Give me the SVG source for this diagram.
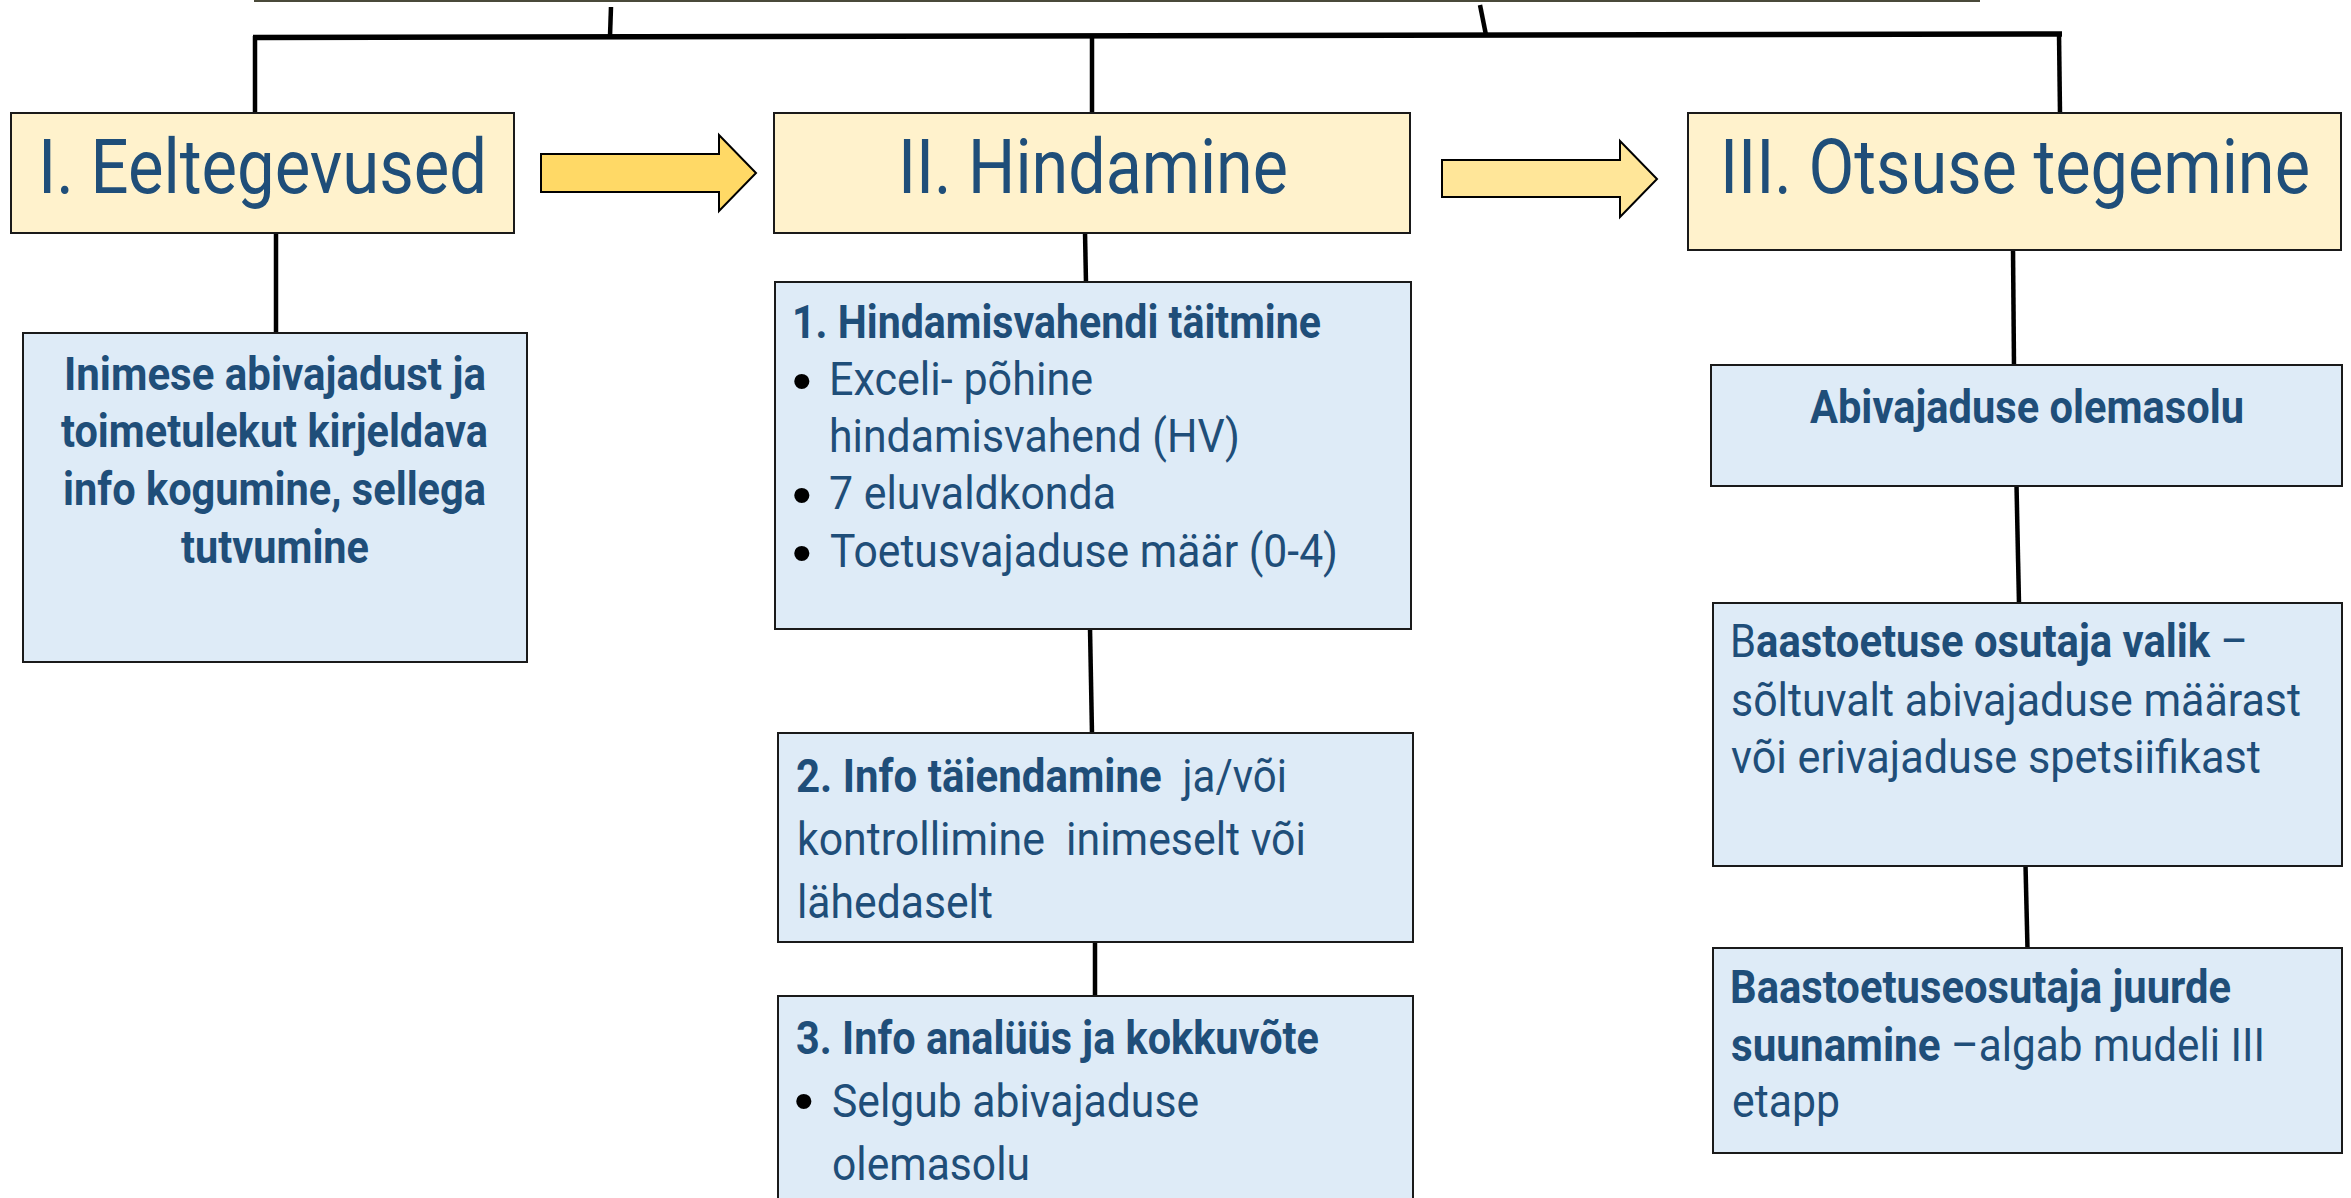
<svg xmlns="http://www.w3.org/2000/svg" width="2351" height="1198" viewBox="0 0 2351 1198">
<style>
.hdr{fill:#FFF2CC;stroke:#1a1a1a;stroke-width:2}
.box{fill:#DEEBF7;stroke:#1a1a1a;stroke-width:2}
.t{font-family:Roboto,"Liberation Sans",sans-serif;fill:#1F4E79;font-size:47px}
.h{font-size:76px}
.b{font-weight:700}
.bul{font-family:"Liberation Sans",sans-serif;fill:#000;font-size:56px}
.c line{stroke:#000;stroke-width:4.5}
.arrow{stroke:#000;stroke-width:2;stroke-linejoin:miter}
</style>
<rect width="2351" height="1198" fill="#fff"/>
<g id="top-box"><rect x="255" y="-30" width="1724" height="31" fill="#fff" stroke="#4a4a3a" stroke-width="2"/></g>
<g id="connectors" class="c">
<line x1="611" y1="7" x2="610" y2="36"/>
<line x1="1480" y1="5" x2="1486" y2="35"/>
<line x1="253" y1="37.5" x2="2062" y2="34" style="stroke-width:5.5"/>
<line x1="255" y1="36" x2="255" y2="114"/>
<line x1="1092" y1="36" x2="1092" y2="114"/>
<line x1="2059" y1="33" x2="2060" y2="114"/>
<line x1="276" y1="232" x2="276" y2="334"/>
<line x1="1085" y1="232" x2="1086" y2="283"/>
<line x1="1090" y1="628" x2="1092" y2="734"/>
<line x1="1095" y1="941" x2="1095" y2="997"/>
<line x1="2013" y1="249" x2="2014" y2="366"/>
<line x1="2016.5" y1="485" x2="2019" y2="604"/>
<line x1="2025.5" y1="865" x2="2027.5" y2="949"/>
</g>
<g id="arrow1"><polygon class="arrow" fill="#FFD966" points="541,154 719,154 719,135 756,173 719,211 719,192 541,192"/></g>
<g id="arrow2"><polygon class="arrow" fill="#FFE699" points="1442,160 1620,160 1620,141 1657,179 1620,217 1620,197 1442,197"/></g>
<g id="stage1">
<rect class="hdr" x="11" y="113" width="503" height="120"/>
<text class="t h" transform="matrix(0.82 0 0 1 6.84 0)" x="38" y="193" textLength="547.6" lengthAdjust="spacingAndGlyphs">I. Eeltegevused</text>
</g>
<g id="stage2">
<rect class="hdr" x="774" y="113" width="636" height="120"/>
<text class="t h" transform="matrix(0.82 0 0 1 161.64 0)" x="898" y="193" textLength="475.6" lengthAdjust="spacingAndGlyphs">II. Hindamine</text>
</g>
<g id="stage3">
<rect class="hdr" x="1688" y="113" width="653" height="137"/>
<text class="t h" transform="matrix(0.82 0 0 1 309.6 0)" x="1720" y="193" textLength="719.5" lengthAdjust="spacingAndGlyphs">III. Otsuse tegemine</text>
</g>
<g id="info-collect">
<rect class="box" x="23" y="333" width="504" height="329"/>
<text class="t b" transform="matrix(0.82 0 0 1 11.52 0)" x="64" y="390" textLength="514.6" lengthAdjust="spacingAndGlyphs">Inimese abivajadust ja</text>
<text class="t b" transform="matrix(0.82 0 0 1 10.98 0)" x="61" y="447" textLength="520.7" lengthAdjust="spacingAndGlyphs">toimetulekut kirjeldava</text>
<text class="t b" transform="matrix(0.82 0 0 1 11.34 0)" x="63" y="505" textLength="515.9" lengthAdjust="spacingAndGlyphs">info kogumine, sellega</text>
<text class="t b" transform="matrix(0.82 0 0 1 32.58 0)" x="181" y="563" textLength="229.3" lengthAdjust="spacingAndGlyphs">tutvumine</text>
</g>
<g id="assess-1">
<rect class="box" x="775" y="282" width="636" height="347"/>
<text class="t b" transform="matrix(0.82 0 0 1 142.56 0)" x="792" y="338" textLength="645.1" lengthAdjust="spacingAndGlyphs">1. Hindamisvahendi täitmine</text>
<text class="bul" x="792" y="400">•</text>
<text class="t" transform="matrix(0.82 0 0 1 149.22 0)" x="829" y="395" textLength="322" lengthAdjust="spacingAndGlyphs">Exceli- põhine</text>
<text class="t" transform="matrix(0.82 0 0 1 149.22 0)" x="829" y="452" textLength="501.2" lengthAdjust="spacingAndGlyphs">hindamisvahend (HV)</text>
<text class="bul" x="792" y="514">•</text>
<text class="t" transform="matrix(0.82 0 0 1 149.22 0)" x="829" y="509" textLength="350" lengthAdjust="spacingAndGlyphs">7 eluvaldkonda</text>
<text class="bul" x="792" y="572">•</text>
<text class="t" transform="matrix(0.82 0 0 1 149.4 0)" x="830" y="567" textLength="619.5" lengthAdjust="spacingAndGlyphs">Toetusvajaduse määr (0-4)</text>
</g>
<g id="assess-2">
<rect class="box" x="778" y="733" width="635" height="209"/>
<text class="t" transform="matrix(0.82 0 0 1 143.28 0)" x="796" y="792" textLength="598.8" lengthAdjust="spacingAndGlyphs" xml:space="preserve"><tspan class="b">2. Info täiendamine</tspan>  ja/või</text>
<text class="t" transform="matrix(0.82 0 0 1 143.46 0)" x="797" y="855" textLength="620.7" lengthAdjust="spacingAndGlyphs" xml:space="preserve">kontrollimine  inimeselt või</text>
<text class="t" transform="matrix(0.82 0 0 1 143.46 0)" x="797" y="918" textLength="239" lengthAdjust="spacingAndGlyphs">lähedaselt</text>
</g>
<g id="assess-3">
<rect class="box" x="778" y="996" width="635" height="230"/>
<text class="t b" transform="matrix(0.82 0 0 1 143.28 0)" x="796" y="1054" textLength="637.8" lengthAdjust="spacingAndGlyphs">3. Info analüüs ja kokkuvõte</text>
<text class="bul" x="794" y="1120">•</text>
<text class="t" transform="matrix(0.82 0 0 1 149.76 0)" x="832" y="1117" textLength="447.6" lengthAdjust="spacingAndGlyphs">Selgub abivajaduse</text>
<text class="t" transform="matrix(0.82 0 0 1 149.76 0)" x="832" y="1180" textLength="241.5" lengthAdjust="spacingAndGlyphs">olemasolu</text>
</g>
<g id="need-exists">
<rect class="box" x="1711" y="365" width="631" height="121"/>
<text class="t b" transform="matrix(0.82 0 0 1 325.8 0)" x="1810" y="423" textLength="529.3" lengthAdjust="spacingAndGlyphs">Abivajaduse olemasolu</text>
</g>
<g id="provider-choice">
<rect class="box" x="1713" y="603" width="629" height="263"/>
<text class="t" transform="matrix(0.82 0 0 1 311.4 0)" x="1730" y="657" textLength="631.7" lengthAdjust="spacingAndGlyphs">B<tspan class="b">aastoetuse osutaja valik</tspan> –</text>
<text class="t" transform="matrix(0.82 0 0 1 311.58 0)" x="1731" y="716" textLength="695.1" lengthAdjust="spacingAndGlyphs">sõltuvalt abivajaduse määrast</text>
<text class="t" transform="matrix(0.82 0 0 1 311.58 0)" x="1731" y="773" textLength="646.3" lengthAdjust="spacingAndGlyphs">või erivajaduse spetsiifikast</text>
</g>
<g id="referral">
<rect class="box" x="1713" y="948" width="629" height="205"/>
<text class="t b" transform="matrix(0.82 0 0 1 311.4 0)" x="1730" y="1003" textLength="611" lengthAdjust="spacingAndGlyphs">Baastoetuseosutaja juurde</text>
<text class="t" transform="matrix(0.82 0 0 1 311.58 0)" x="1731" y="1061" textLength="651.2" lengthAdjust="spacingAndGlyphs"><tspan class="b">suunamine</tspan> –algab mudeli III</text>
<text class="t" transform="matrix(0.82 0 0 1 311.76 0)" x="1732" y="1117" textLength="131.7" lengthAdjust="spacingAndGlyphs">etapp</text>
</g>
</svg>
